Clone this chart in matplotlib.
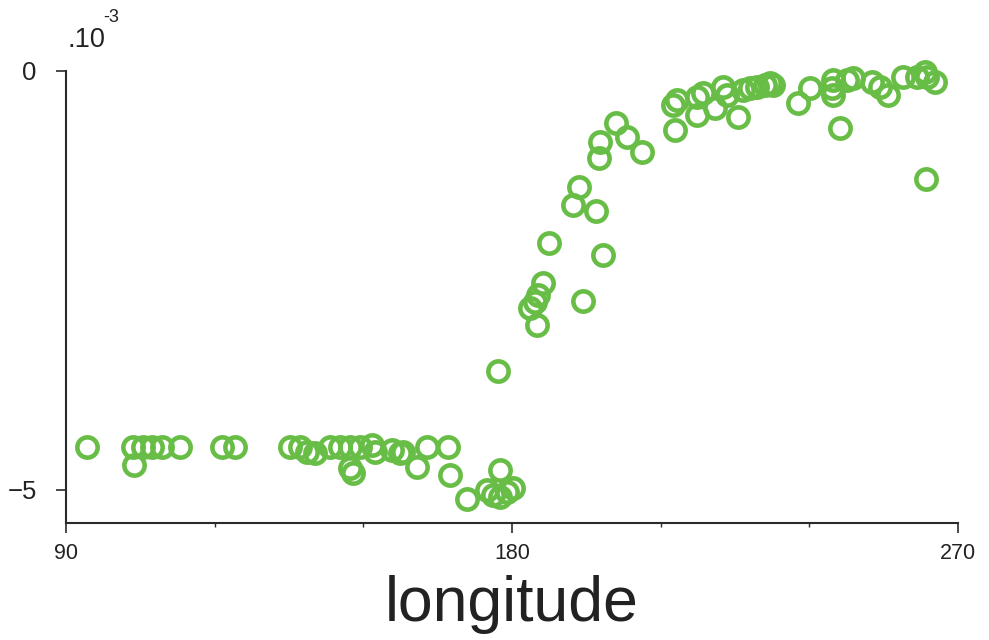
import matplotlib
matplotlib.use("Agg")
import matplotlib.pyplot as plt
from matplotlib.ticker import FixedLocator

plt.rcParams['font.family'] = ['Liberation Sans', 'DejaVu Sans']

# Longitude (degrees) and value (units of 1e-3)
longitude = [
    94.2, 103.5, 103.7, 105.5, 107.4, 109.4, 113.0, 121.5, 124.1, 135.2,
    137.2, 138.6, 140.2, 143.3, 145.3, 147.3, 147.3, 147.9, 149.3, 151.8,
    152.4, 155.8, 157.4, 158.0, 160.8, 162.9, 167.1, 167.5, 170.9, 175.0,
    176.2, 177.6, 177.6, 179.0, 180.2,
    177.2, 185.0, 183.6, 184.6, 185.2, 186.3, 194.3, 187.5, 198.4, 192.3,
    193.5, 197.0, 197.6, 197.8, 201.0, 203.2, 206.2, 212.9, 212.5, 213.3,
    217.3, 217.3, 218.5, 221.0, 222.6, 223.4, 225.6, 226.6, 228.0, 229.4,
    231.1, 232.1, 232.7, 237.7, 240.1, 244.6, 244.8, 244.8, 246.2, 247.6,
    248.8, 252.6, 254.3, 255.9, 258.9, 261.7, 263.3, 263.7, 263.5, 265.4,
]
value = [
    -4.49, -4.49, -4.70, -4.49, -4.49, -4.49, -4.49, -4.49, -4.49, -4.49,
    -4.49, -4.55, -4.56, -4.49, -4.49, -4.49, -4.74, -4.80, -4.49, -4.46,
    -4.55, -4.52, -4.56, -4.55, -4.73, -4.49, -4.49, -4.82, -5.11, -5.00,
    -5.06, -4.76, -5.08, -5.02, -4.98,
    -3.58, -3.03, -2.83, -2.76, -2.67, -2.53, -2.74, -2.05, -2.20, -1.60,
    -1.38, -1.67, -1.04, -0.85, -0.62, -0.79, -0.97, -0.70, -0.41, -0.35,
    -0.31, -0.53, -0.26, -0.44, -0.19, -0.29, -0.55, -0.23, -0.20, -0.19,
    -0.17, -0.14, -0.17, -0.38, -0.20, -0.20, -0.29, -0.11, -0.68, -0.11,
    -0.08, -0.13, -0.19, -0.29, -0.07, -0.07, -0.01, -0.07, -1.29, -0.13,
]

x_major = [90, 180, 270]
x_minor = [120, 150, 210, 240]
y_ticks = [-5, 0]
y_ticklabels = ["\u22125", "0"]

green = "#67bd45"
axis_col = "#2a2a2a"

fig = plt.figure(figsize=(9.89, 6.40), dpi=100)
ax = fig.add_axes([66/989, 1-523/640, 892/989, 452/640])

ax.plot(longitude, value, linestyle='none', marker='o', markersize=14.6,
        markerfacecolor='none', markeredgecolor=green, markeredgewidth=3.3,
        clip_on=False, zorder=3)

ax.set_xlim(90, 270)
ax.set_ylim(-5.394, 0)

for s in ['top', 'right']:
    ax.spines[s].set_visible(False)
for s in ['left', 'bottom']:
    ax.spines[s].set_color(axis_col)
    ax.spines[s].set_linewidth(1.5)

ax.xaxis.set_major_locator(FixedLocator(x_major))
ax.xaxis.set_minor_locator(FixedLocator(x_minor))
ax.set_xticklabels([str(v) for v in x_major])
ax.set_yticks(y_ticks)
ax.set_yticklabels(y_ticklabels)

ax.tick_params(axis='x', which='major', direction='out', length=7.5, width=1.2,
               color=axis_col, labelsize=15.5, pad=7, labelcolor='#222222')
ax.tick_params(axis='x', which='minor', direction='out', length=3, width=1.0,
               color=axis_col)
ax.tick_params(axis='y', which='major', direction='out', length=7, width=1.2,
               color=axis_col, labelsize=18.5, pad=14, labelcolor='#222222')

fig.text(512/989, 1-605/640, "longitude", fontsize=45, ha='center',
         va='center', color='#222222')

fig.text(67/989, 1-47/640, ".10", fontsize=19.5, ha='left', va='baseline',
         color='#222222')
fig.text(103/989, 1-22/640, "-3", fontsize=13, ha='left', va='baseline',
         color='#222222')

fig.savefig("out.png", dpi=100)
